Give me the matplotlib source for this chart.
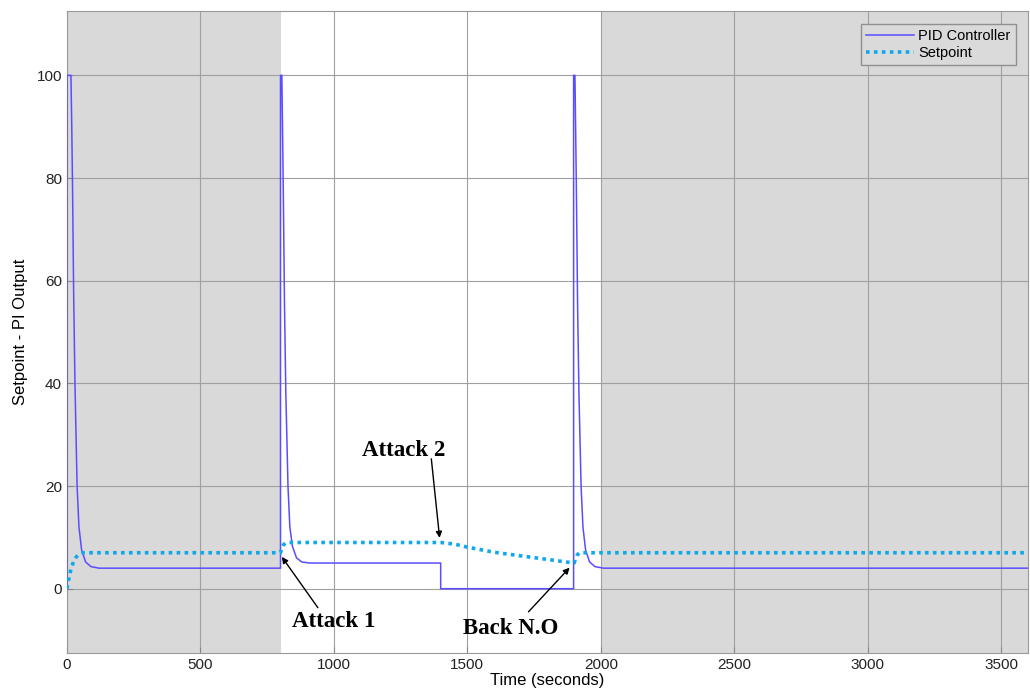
import numpy as np
import matplotlib.pyplot as plt

# PID controller output
pid_t = [0, 0, 15, 18, 21, 25, 30, 38, 45, 55, 70, 90, 120,
         800, 800, 805, 808, 811, 815, 820, 828, 835, 845, 860, 880, 910,
         1400, 1400,
         1898, 1898, 1903, 1906, 1909, 1913, 1918, 1926, 1933, 1943, 1958, 1978, 2010,
         3600]
pid_v = [0, 100, 100, 90, 78, 58, 40, 20, 12, 7.5, 5.2, 4.3, 4.0,
         4.0, 100, 100, 88, 75, 55, 38, 20, 12, 8.2, 6.0, 5.2, 5.0,
         5.0, 0.0,
         0.0, 100, 100, 88, 75, 55, 38, 20, 12, 7.5, 5.2, 4.3, 4.0,
         4.0]

# setpoint
sp_t = [0, 8, 16, 25, 35, 45, 60, 800, 805, 812, 820, 830,
        1400, 1450, 1500, 1600, 1700, 1800, 1900, 1905, 1912, 1920, 3600]
sp_v = [0, 2.2, 4.0, 5.3, 6.2, 6.7, 7.0, 7.0, 8.0, 8.6, 8.9, 9.0,
        9.0, 8.7, 8.1, 7.1, 6.4, 5.7, 5.0, 5.8, 6.6, 7.0, 7.0]

# shaded (gray) time windows
shade = [(0, 800), (2000, 3600)]

plt.rcParams['font.family'] = ['Liberation Sans', 'DejaVu Sans']

fig = plt.figure(figsize=(10.3, 6.99), dpi=100)
ax = fig.add_axes([0.065, 0.066, 0.933, 0.918])

for a, b in shade:
    ax.axvspan(a, b, color='#d9d9d9', zorder=0, lw=0)

ax.plot(pid_t, pid_v, color='#5a4dff', lw=1.1, label='PID Controller', zorder=3)
ax.plot(sp_t, sp_v, color='#0fa8ec', lw=2.6, ls=(0, (1, 1.2)), label='Setpoint', zorder=4)

ax.set_xlim(0, 3600)
ax.set_ylim(-12.5, 112.5)
ax.set_xticks(np.arange(0, 3600, 500))
ax.set_yticks(np.arange(0, 101, 20))
ax.grid(True, color='#a0a0a0', lw=0.8, zorder=1)
ax.set_axisbelow(True)
ax.tick_params(direction='in', length=4, color='#888888', labelsize=11, labelcolor='#222222')
for s in ax.spines.values():
    s.set_color('#999999')

ax.set_xlabel('Time (seconds)', fontsize=12, labelpad=1)
ax.set_ylabel('Setpoint - PI Output', fontsize=12, labelpad=6)

leg = ax.legend(loc='upper right', fontsize=10.5, fancybox=False, framealpha=1,
                facecolor='#dadada', edgecolor='#909090', borderaxespad=0.85,
                handlelength=3.3, handletextpad=0.3, borderpad=0.35, labelspacing=0.25)

font = dict(family='Liberation Serif', fontweight='bold', fontsize=16.5)
arrow = dict(arrowstyle='-|>', color='black', lw=1.0, mutation_scale=9, shrinkA=0, shrinkB=0)
ax.annotate('', xy=(805, 6.2), xytext=(940, -3.7), arrowprops=arrow)
ax.text(1000, -6.4, 'Attack 1', ha='center', va='center', **font)
ax.annotate('', xy=(1396, 9.9), xytext=(1365, 25.3), arrowprops=arrow)
ax.text(1262, 27, 'Attack 2', ha='center', va='center', **font)
ax.annotate('', xy=(1883, 4.1), xytext=(1729, -4.5), arrowprops=arrow)
ax.text(1662, -7.8, 'Back N.O', ha='center', va='center', **font)

fig.savefig('out.png', dpi=100)
